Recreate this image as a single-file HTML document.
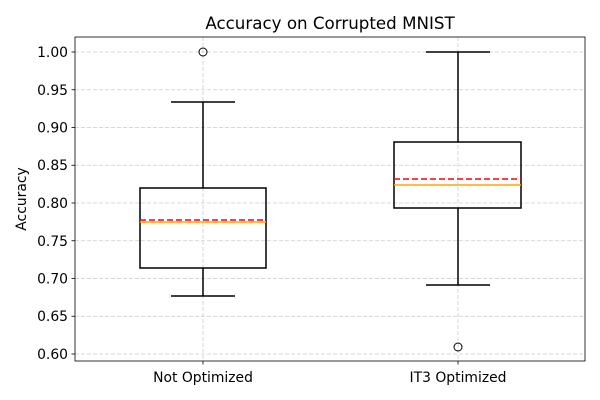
<!DOCTYPE html>
<html><head><style>body{margin:0;background:#fff}svg{display:block}</style></head><body>
<svg width="600" height="400" xmlns="http://www.w3.org/2000/svg" font-family="'DejaVu Sans','Liberation Sans',sans-serif">
<rect width="600" height="400" fill="#fff"/>
<g stroke="#cccccc" stroke-width="0.8" stroke-dasharray="4,2">
<line x1="75" x2="585" y1="52" y2="52"/><line x1="75" x2="585" y1="89.75" y2="89.75"/>
<line x1="75" x2="585" y1="127.5" y2="127.5"/><line x1="75" x2="585" y1="165.25" y2="165.25"/>
<line x1="75" x2="585" y1="203" y2="203"/><line x1="75" x2="585" y1="240.75" y2="240.75"/>
<line x1="75" x2="585" y1="278.5" y2="278.5"/><line x1="75" x2="585" y1="316.25" y2="316.25"/>
<line x1="75" x2="585" y1="354" y2="354"/>
<line x1="203" x2="203" y1="37" y2="361"/><line x1="458" x2="458" y1="37" y2="361"/>
</g>
<g stroke="#000" stroke-width="1.5" fill="none">
<line x1="203" x2="203" y1="102" y2="188"/><line x1="203" x2="203" y1="268" y2="296"/>
<line x1="171" x2="235" y1="102" y2="102"/><line x1="171" x2="235" y1="296" y2="296"/>
<rect x="140" y="188" width="126" height="80"/>
<line x1="458" x2="458" y1="52" y2="142"/><line x1="458" x2="458" y1="208" y2="285"/>
<line x1="426" x2="490" y1="52" y2="52"/><line x1="426" x2="490" y1="285" y2="285"/>
<rect x="394" y="142" width="127" height="66"/>
</g>
<g stroke="#000" fill="none" stroke-width="1"><circle cx="203" cy="52" r="4"/><circle cx="458" cy="347" r="4"/></g>
<g stroke-width="1.5">
<line x1="140" x2="266" y1="222" y2="222" stroke="orange"/>
<line x1="140" x2="266" y1="220" y2="220" stroke="red" stroke-dasharray="6,3"/>
<line x1="394" x2="521" y1="185" y2="185" stroke="orange"/>
<line x1="394" x2="521" y1="179" y2="179" stroke="red" stroke-dasharray="6,3"/>
</g>
<rect x="75" y="37" width="510" height="324" fill="none" stroke="#000" stroke-width="0.8"/>
<g stroke="#000" stroke-width="0.8">
<line x1="71.5" x2="75" y1="52" y2="52"/><line x1="71.5" x2="75" y1="89.75" y2="89.75"/>
<line x1="71.5" x2="75" y1="127.5" y2="127.5"/><line x1="71.5" x2="75" y1="165.25" y2="165.25"/>
<line x1="71.5" x2="75" y1="203" y2="203"/><line x1="71.5" x2="75" y1="240.75" y2="240.75"/>
<line x1="71.5" x2="75" y1="278.5" y2="278.5"/><line x1="71.5" x2="75" y1="316.25" y2="316.25"/>
<line x1="71.5" x2="75" y1="354" y2="354"/>
<line x1="203" x2="203" y1="361" y2="364.5"/><line x1="458" x2="458" y1="361" y2="364.5"/>
</g>
<g font-size="13.9" text-anchor="end" fill="#000">
<text x="68" y="57">1.00</text><text x="68" y="95">0.95</text><text x="68" y="132.5">0.90</text>
<text x="68" y="170">0.85</text><text x="68" y="208">0.80</text><text x="68" y="246">0.75</text>
<text x="68" y="283.5">0.70</text><text x="68" y="321">0.65</text><text x="68" y="359">0.60</text>
</g>
<g font-size="13.9" text-anchor="middle">
<text x="203" y="382">Not Optimized</text><text x="458" y="382">IT3 Optimized</text>
<text x="26" y="199" transform="rotate(-90 26 199)">Accuracy</text>
<text x="330" y="29" font-size="16.7">Accuracy on Corrupted MNIST</text>
</g>
</svg>
</body></html>
